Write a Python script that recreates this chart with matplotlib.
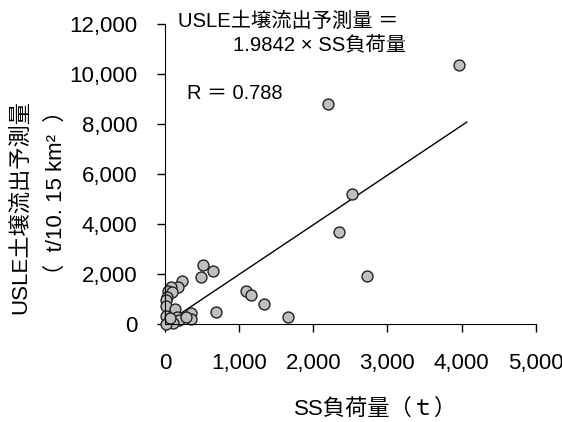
import numpy as np
import matplotlib
matplotlib.use("Agg")
import matplotlib.pyplot as plt

plt.rcParams["font.family"] = ["Liberation Sans", "Noto Sans CJK JP", "DejaVu Sans"]

# SS load (t) vs USLE predicted sediment yield (t/10.15 km2)
ss_load = [3972, 2196, 2528, 2352, 2722, 517, 644, 482, 1093, 1161,
           1332, 1660, 684, 347, 347, 233, 171, 77, 45, 99,
           31, 15, 15, 135, 10, 158, 193, 112, 10, 67, 283]
usle_pred = [10360, 8800, 5212, 3692, 1920, 2360, 2120, 1868, 1332, 1172,
             788, 268, 468, 452, 200, 1732, 1492, 1492, 1332, 1268,
             1092, 960, 720, 588, 332, 292, 160, 28, 10, 228, 268]
slope = 1.9842
r_value = 0.788
fit_x = [0, 4070]

fig = plt.figure(figsize=(5.62, 4.22), dpi=100)
ax = fig.add_axes([0.2936, 0.2322, 0.6596, 0.7109])

ax.plot(fit_x, [slope * v for v in fit_x], color="black", lw=1.0, zorder=1)
ax.scatter(ss_load, usle_pred, s=62, facecolor="#c0c0c0", edgecolor="#222222",
           linewidths=1.0, zorder=2, clip_on=False)

ax.set_xlim(0, 5000)
ax.set_ylim(0, 12000)
ax.set_xticks(range(0, 5001, 1000))
ax.set_yticks(range(0, 12001, 2000))
ax.xaxis.set_major_formatter(matplotlib.ticker.StrMethodFormatter("{x:,.0f}"))
ax.yaxis.set_major_formatter(matplotlib.ticker.StrMethodFormatter("{x:,.0f}"))
ax.tick_params(labelsize=16, length=6, width=1, pad=14, direction="out")
ax.tick_params(axis="x", pad=15)
ax.spines["top"].set_visible(False)
ax.spines["right"].set_visible(False)

ax.text(175, 12120, "USLE土壌流出予測量 ＝", fontsize=14.6, va="center", ha="left", clip_on=False)
ax.text(918, 11160, "1.9842 × SS負荷量", fontsize=14.6, va="center", ha="left", clip_on=False)
ax.text(297, 9240, "R ＝ %.3f" % r_value, fontsize=14.4, va="center", ha="left")

fig.text(0.036, 0.509, "USLE土壌流出予測量", rotation=90, fontsize=16, ha="center", va="center")
fig.text(0.1, 0.543, "（  t/10. 15 km²  ）", rotation=90, fontsize=16, ha="center", va="center")
fig.text(0.669, 0.031, "SS負荷量（ｔ）", fontsize=16, ha="center", va="center")

fig.savefig("out.png", dpi=100)
